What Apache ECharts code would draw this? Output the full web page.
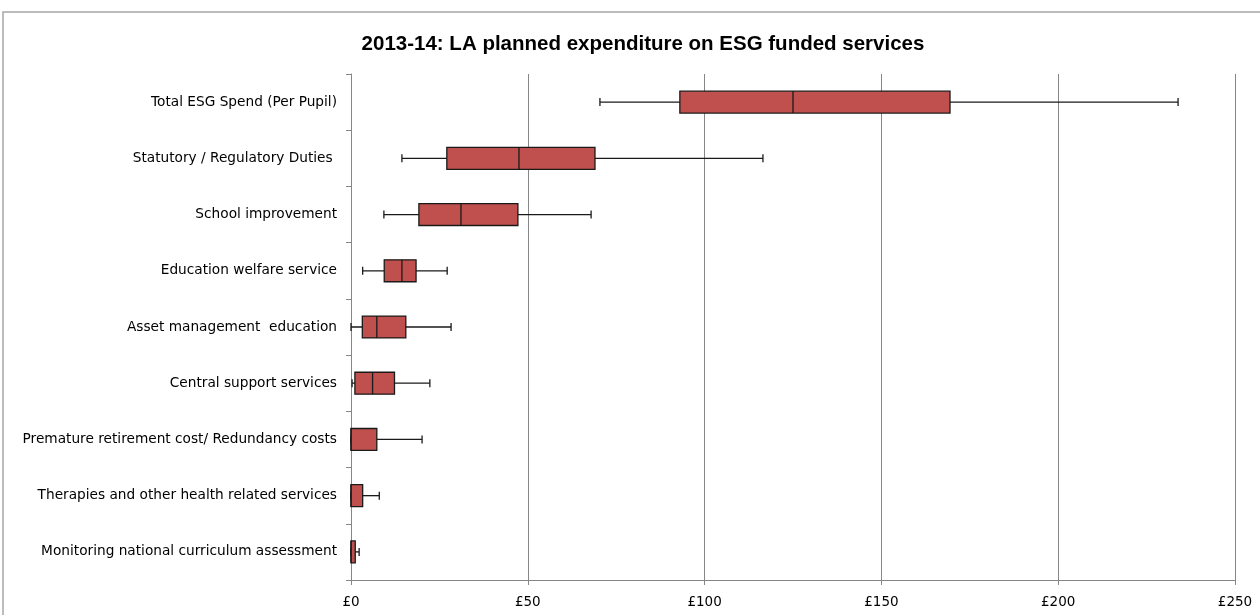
<!DOCTYPE html>
<html><head><meta charset="utf-8">
<script src="https://cdn.jsdelivr.net/npm/echarts@6/dist/echarts.min.js"></script>
<style>html,body{margin:0;padding:0;background:#fff}#c{width:1260px;height:615px}</style>
</head><body><div id="c"></div>
<script>
const categories = [
  "Total ESG Spend (Per Pupil)",
  "Statutory / Regulatory Duties ",
  "School improvement",
  "Education welfare service",
  "Asset management  education",
  "Central support services",
  "Premature retirement cost/ Redundancy costs",
  "Therapies and other health related services",
  "Monitoring national curriculum assessment"
];
const minValues    = [70.4, 14.4, 9.3, 3.3, 0.0, 0.3, 0.0, 0.0, 0.0];
const q1Values     = [93.0, 27.1, 19.2, 9.4, 3.2, 1.1, 0.0, 0.0, 0.0];
const medianValues = [125.0, 47.5, 31.1, 14.4, 7.3, 6.1, 0.0, 0.0, 0.0];
const q3Values     = [169.4, 69.0, 47.2, 18.4, 15.5, 12.3, 7.3, 3.3, 1.2];
const maxValues    = [233.9, 116.5, 67.9, 27.2, 28.3, 22.3, 20.1, 8.0, 2.3];
const xTicks = [0, 50, 100, 150, 200, 250];

const data = categories.map((c, i) => [i, minValues[i], q1Values[i], medianValues[i], q3Values[i], maxValues[i]]);

const chart = echarts.init(document.getElementById('c'));
chart.setOption({
  animation: false,
  title: {
    text: '2013-14: LA planned expenditure on ESG funded services',
    left: 638, top: 29, textAlign: 'center',
    textStyle: { fontFamily: 'Liberation Sans', fontSize: 20.5, fontWeight: 'bold', color: '#000' }
  },
  graphic: [{
    type: 'polyline', shape: { points: [[3, 615], [3, 12], [1260, 12]] },
    style: { stroke: '#a6a6a6', lineWidth: 1.5, fill: null }, silent: true
  }],
  grid: { left: 351, right: 25, top: 74, bottom: 35 },
  xAxis: {
    type: 'value', min: xTicks[0], max: xTicks[xTicks.length - 1], interval: 50,
    axisLine: { show: true, lineStyle: { color: '#868686' } },
    axisTick: { show: true, length: 5, lineStyle: { color: '#868686' } },
    splitLine: { show: true, lineStyle: { color: '#868686', width: 1 } },
    axisLabel: { formatter: v => '£' + v, fontFamily: 'DejaVu Sans', fontSize: 13.5, color: '#000', margin: 15 }
  },
  yAxis: {
    type: 'category', data: categories, inverse: true,
    axisLine: { show: true, lineStyle: { color: '#868686' } },
    axisTick: { show: true, length: 5, lineStyle: { color: '#868686' } },
    axisLabel: { fontFamily: 'DejaVu Sans', fontSize: 13.7, color: '#000', margin: 14 }
  },
  series: [{
    type: 'custom',
    data: data,
    encode: { y: 0, x: [1, 2, 3, 4, 5] },
    renderItem: function (params, api) {
      const cat = api.value(0);
      const pMin = api.coord([api.value(1), cat]);
      const pQ1 = api.coord([api.value(2), cat]);
      const pMed = api.coord([api.value(3), cat]);
      const pQ3 = api.coord([api.value(4), cat]);
      const pMax = api.coord([api.value(5), cat]);
      const band = api.size([0, 1])[1];
      const h = band * 0.39;
      const cap = 4;
      const y = pQ1[1];
      const line = { stroke: '#1a1a1a', lineWidth: 1.3 };
      return {
        type: 'group',
        children: [
          { type: 'line', shape: { x1: pMin[0], y1: y, x2: pMax[0], y2: y }, style: line },
          { type: 'line', shape: { x1: pMin[0], y1: y - cap, x2: pMin[0], y2: y + cap }, style: line },
          { type: 'line', shape: { x1: pMax[0], y1: y - cap, x2: pMax[0], y2: y + cap }, style: line },
          { type: 'rect', shape: { x: pQ1[0], y: y - h / 2, width: pQ3[0] - pQ1[0], height: h },
            style: { fill: '#C0504D', stroke: '#1a1a1a', lineWidth: 1.3 } },
          { type: 'line', shape: { x1: pMed[0], y1: y - h / 2, x2: pMed[0], y2: y + h / 2 }, style: line }
        ]
      };
    }
  }]
});
</script>
</body></html>
